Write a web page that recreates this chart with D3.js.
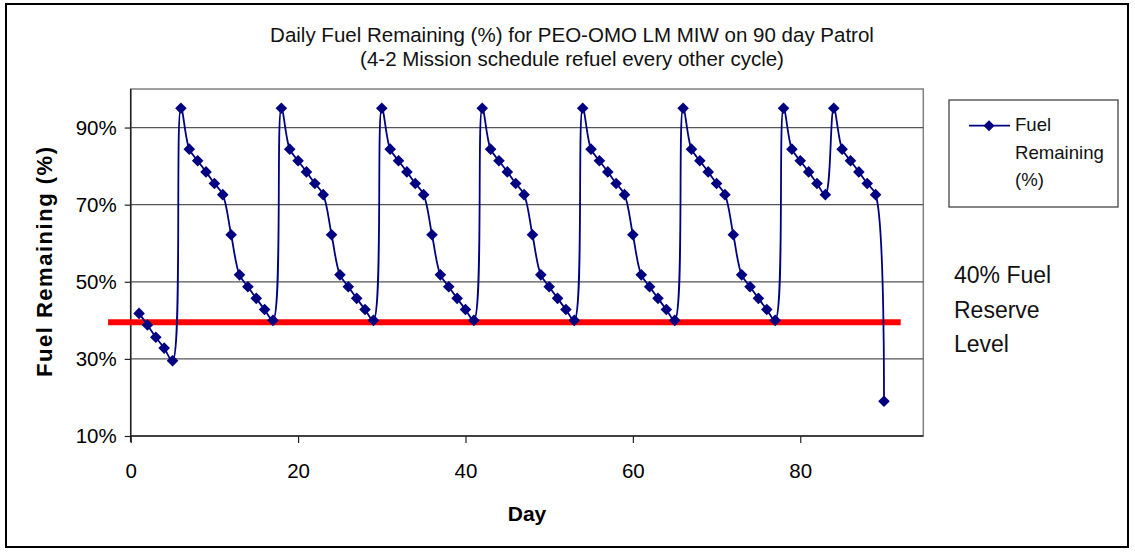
<!DOCTYPE html>
<html>
<head>
<meta charset="utf-8">
<script src="https://cdn.jsdelivr.net/npm/d3@7"></script>
<style>
  html, body { margin: 0; padding: 0; background: #fff; }
  svg { display: block; font-family: "Liberation Sans", Arial, sans-serif; }
</style>
</head>
<body>
<svg id="chart" width="1135" height="552"></svg>
<script>
// ---- data ----
const titleLines = ["Daily Fuel Remaining (%) for PEO-OMO LM MIW on 90 day Patrol",
                    "(4-2 Mission schedule refuel every other cycle)"];
const xLabel = "Day";
const yLabel = "Fuel Remaining (%)";
const seriesName = ["Fuel", "Remaining", "(%)"];
const reserveText = ["40% Fuel", "Reserve", "Level"];

const days = [1,2,3,4,5,6,7,8,9,10,11,12,13,14,15,16,17,18,19,20,
  21,22,23,24,25,26,27,28,29,30,31,32,33,34,35,36,37,38,39,40,
  41,42,43,44,45,46,47,48,49,50,51,52,53,54,55,56,57,58,59,60,
  61,62,63,64,65,66,67,68,69,70,71,72,73,74,75,76,77,78,79,80,
  81,82,83,84,85,86,87,88,89,90];
const fuel = [41.8,38.8,35.6,32.8,29.5,
  95,84.4,81.4,78.5,75.5,72.6,62.2,51.8,48.7,45.7,42.8,40.0,
  95,84.4,81.4,78.5,75.5,72.6,62.2,51.8,48.7,45.7,42.8,40.0,
  95,84.4,81.4,78.5,75.5,72.6,62.2,51.8,48.7,45.7,42.8,40.0,
  95,84.4,81.4,78.5,75.5,72.6,62.2,51.8,48.7,45.7,42.8,40.0,
  95,84.4,81.4,78.5,75.5,72.6,62.2,51.8,48.7,45.7,42.8,40.0,
  95,84.4,81.4,78.5,75.5,72.6,62.2,51.8,48.7,45.7,42.8,40.0,
  95,84.4,81.4,78.5,75.5,72.6,
  95,84.4,81.4,78.5,75.5,72.6,
  19.0];
const reserveX = [-2.7, 92.0];
const reserveY = [39.5, 39.5];
const xTicks = [0, 20, 40, 60, 80];
const yTicks = [10, 30, 50, 70, 90];
const xDomain = [0, 94.7];
const yDomain = [10, 100];

// ---- layout ----
const svg = d3.select("#chart");
const plot = {left: 130.7, right: 923.3, top: 89, bottom: 436};
const x = d3.scaleLinear().domain(xDomain).range([plot.left, plot.right]);
const y = d3.scaleLinear().domain(yDomain).range([plot.bottom, plot.top]);

// outer frame
svg.append("rect").attr("x", 6).attr("y", 4).attr("width", 1122).attr("height", 543)
  .attr("fill", "#fff").attr("stroke", "#000").attr("stroke-width", 2);

// plot area border (top / right gray)
svg.append("rect").attr("x", plot.left).attr("y", plot.top)
  .attr("width", plot.right - plot.left).attr("height", plot.bottom - plot.top)
  .attr("fill", "#fff").attr("stroke", "#808080").attr("stroke-width", 1.5);

// gridlines
svg.append("g").selectAll("line").data(yTicks.filter(d => d > yDomain[0]))
  .join("line")
  .attr("x1", plot.left).attr("x2", plot.right)
  .attr("y1", d => y(d)).attr("y2", d => y(d))
  .attr("stroke", "#555").attr("stroke-width", 1.3);

// axes
const yAxis = svg.append("g").attr("transform", `translate(${plot.left},0)`)
  .call(d3.axisLeft(y).tickValues(yTicks).tickFormat(d => d + "%").tickSize(6).tickPadding(8));
const xAxis = svg.append("g").attr("transform", `translate(0,${plot.bottom})`)
  .call(d3.axisBottom(x).tickValues(xTicks).tickFormat(d3.format("d")).tickSize(7).tickPadding(20));
[yAxis, xAxis].forEach(g => {
  g.select(".domain").attr("stroke", "#222").attr("stroke-width", 1.5);
  g.selectAll(".tick line").attr("stroke", "#222").attr("stroke-width", 1.2);
  g.selectAll("text").attr("fill", "#000").style("font-size", "20.5px")
    .style("font-family", "'Liberation Sans', Arial, sans-serif");
});
xAxis.select(".domain").attr("d", `M${plot.left},0H${plot.right}`);
yAxis.select(".domain").attr("d", `M0,${plot.bottom + 6}V${plot.top}`);

// reserve red line
const reserve = reserveX.map((d, i) => ({x: d, y: reserveY[i]}));
svg.append("line")
  .attr("x1", x(reserve[0].x)).attr("x2", x(reserve[1].x))
  .attr("y1", y(reserve[0].y)).attr("y2", y(reserve[1].y))
  .attr("stroke", "#ff0000").attr("stroke-width", 6);

// series
const data = days.map((d, i) => ({x: d, y: fuel[i]}));
const line = d3.line().x(d => x(d.x)).y(d => y(d.y)).curve(d3.curveCatmullRom.alpha(0.5));
svg.append("path").datum(data).attr("d", line)
  .attr("fill", "none").attr("stroke", "#000080").attr("stroke-width", 1.8);
svg.append("g").selectAll("path").data(data).join("path")
  .attr("transform", d => `translate(${x(d.x)},${y(d.y)})`)
  .attr("d", "M0,-5.8L5.8,0L0,5.8L-5.8,0Z")
  .attr("fill", "#000080");

// title
svg.append("g").selectAll("text").data(titleLines).join("text")
  .attr("x", 572).attr("y", (d, i) => 42 + i * 24)
  .attr("text-anchor", "middle").style("font-size", "20.5px").attr("fill", "#111")
  .text(d => d);

// axis titles
svg.append("text").attr("x", (plot.left + plot.right) / 2).attr("y", 521)
  .attr("text-anchor", "middle").style("font-size", "21px").style("font-weight", "bold")
  .text(xLabel);
svg.append("text").attr("transform", `translate(51.5,262) rotate(-90)`)
  .attr("text-anchor", "middle").style("font-size", "22px").style("font-weight", "bold")
  .attr("textLength", 230).attr("lengthAdjust", "spacing")
  .text(yLabel);

// legend
const lg = svg.append("g");
lg.append("rect").attr("x", 949).attr("y", 100).attr("width", 169).attr("height", 107)
  .attr("fill", "#fff").attr("stroke", "#444").attr("stroke-width", 1.3);
lg.append("line").attr("x1", 969).attr("x2", 1010).attr("y1", 125.7).attr("y2", 125.7)
  .attr("stroke", "#000080").attr("stroke-width", 1.8);
lg.append("path").attr("transform", "translate(989,125.7)")
  .attr("d", "M0,-5.5L5.5,0L0,5.5L-5.5,0Z").attr("fill", "#000080");
lg.selectAll("text.leg").data(seriesName).join("text").attr("class", "leg")
  .attr("x", 1015).attr("y", (d, i) => 131 + i * 27.5)
  .style("font-size", "18.6px").attr("fill", "#111").text(d => d);

// reserve annotation
svg.append("g").selectAll("text").data(reserveText).join("text")
  .attr("x", 954).attr("y", (d, i) => 283 + i * 34.5)
  .style("font-size", "23px").attr("fill", "#111").text(d => d);
</script>
</body>
</html>
